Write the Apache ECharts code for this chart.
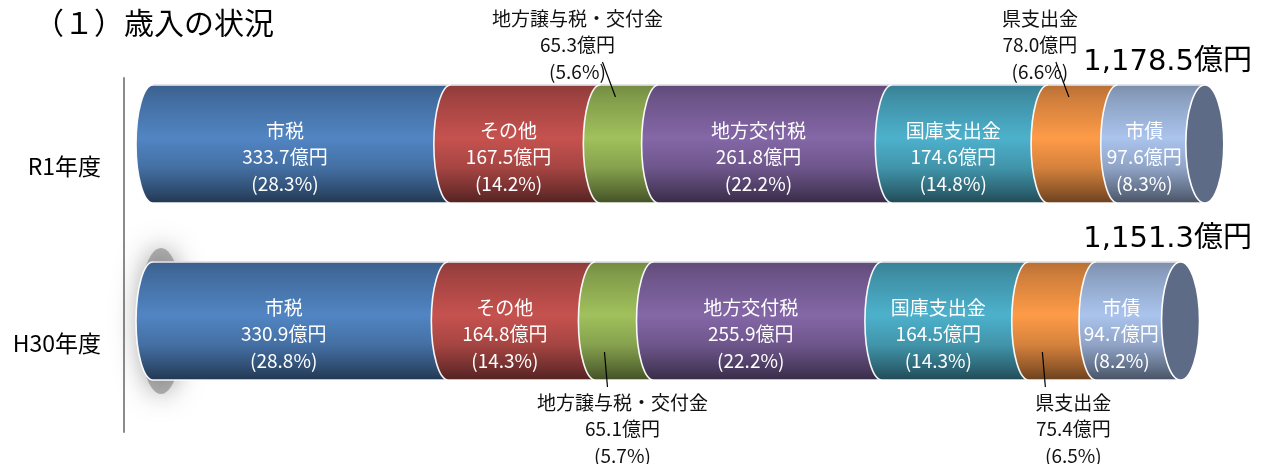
<!DOCTYPE html>
<html>
<head>
<meta charset="utf-8">
<script src="https://cdn.jsdelivr.net/npm/echarts@6/dist/echarts.min.js"></script>
<style>
  html, body { margin: 0; padding: 0; background: #fff; }
  #chart { width: 1263px; height: 464px; }
</style>
</head>
<body>
<div id="chart"></div>
<script>
// 年度・項目・金額（億円）・構成比（%）
const categories = ['R1年度', 'H30年度'];
const itemNames = ['市税', 'その他', '地方譲与税・交付金', '地方交付税', '国庫支出金', '県支出金', '市債'];
const valuesR1 = [333.7, 167.5, 65.3, 261.8, 174.6, 78.0, 97.6];
const valuesH30 = [330.9, 164.8, 65.1, 255.9, 164.5, 75.4, 94.7];
const pctR1 = [28.3, 14.2, 5.6, 22.2, 14.8, 6.6, 8.3];
const pctH30 = [28.8, 14.3, 5.7, 22.2, 14.3, 6.5, 8.2];

const valuesByYear = [valuesR1, valuesH30];
const pctByYear = [pctR1, pctH30];

// 見た目の設定
const colors = ['#4F81BD', '#C0504D', '#9BBB59', '#8064A2', '#4BACC6', '#F79646', '#A6BEE6'];
const capColor = '#5e6b86';
const FONT = '"Noto Sans CJK JP", "Noto Sans", sans-serif';
const NUM_FONT = '"DejaVu Sans", "Noto Sans CJK JP", sans-serif';
const RX = 17;
// 外側に出すラベル（譲与税・県支出金）の横ずれ
const outsideItems = [2, 5];
const outsideDx = [{ 2: -35, 5: -26 }, { 2: 15, 5: 28 }];
const shadowYear = 1;

const shade = (hex, f) => {
  const n = parseInt(hex.slice(1), 16);
  const c = [(n >> 16) & 255, (n >> 8) & 255, n & 255].map(v => Math.max(0, Math.min(255, Math.round(v * f))));
  return 'rgb(' + c.join(',') + ')';
};
const cylGradient = (hex) => ({
  type: 'linear', x: 0, y: 0, x2: 0, y2: 1,
  colorStops: [
    { offset: 0, color: shade(hex, 0.74) },
    { offset: 0.12, color: shade(hex, 0.84) },
    { offset: 0.45, color: shade(hex, 1.03) },
    { offset: 0.7, color: shade(hex, 0.86) },
    { offset: 0.9, color: shade(hex, 0.58) },
    { offset: 1, color: shade(hex, 0.42) }
  ]
});

const K = 0.5523;
// 左半分の楕円弧（上→下）
const leftArc = (x, top, bottom) => {
  const cy = (top + bottom) / 2, ry = (bottom - top) / 2;
  return 'C ' + (x - K * RX) + ' ' + top + ' ' + (x - RX) + ' ' + (cy - K * ry) + ' ' + (x - RX) + ' ' + cy +
    ' C ' + (x - RX) + ' ' + (cy + K * ry) + ' ' + (x - K * RX) + ' ' + bottom + ' ' + x + ' ' + bottom;
};
const ellipsePath = (cx, cy, rx, ry) => {
  return 'M ' + cx + ' ' + (cy - ry) +
    ' C ' + (cx + K * rx) + ' ' + (cy - ry) + ' ' + (cx + rx) + ' ' + (cy - K * ry) + ' ' + (cx + rx) + ' ' + cy +
    ' C ' + (cx + rx) + ' ' + (cy + K * ry) + ' ' + (cx + K * rx) + ' ' + (cy + ry) + ' ' + cx + ' ' + (cy + ry) +
    ' C ' + (cx - K * rx) + ' ' + (cy + ry) + ' ' + (cx - rx) + ' ' + (cy + K * ry) + ' ' + (cx - rx) + ' ' + cy +
    ' C ' + (cx - rx) + ' ' + (cy - K * ry) + ' ' + (cx - K * rx) + ' ' + (cy - ry) + ' ' + cx + ' ' + (cy - ry) + ' Z';
};

const fmtTotal = (v) => v.toLocaleString('en-US', { minimumFractionDigits: 1, maximumFractionDigits: 1 }) + '億円';

const makeRender = (si) => (params, api) => {
  const cat = api.value(0);
  const p0 = api.coord([api.value(1), cat]);
  const p1 = api.coord([api.value(2), cat]);
  const band = api.size([0, 1])[1];
  const h = band * 0.667;
  const cy = p0[1] - band * 0.127;
  const top = cy - h / 2, bottom = cy + h / 2;
  const x0 = p0[0], x1 = p1[0];
  const value = api.value(3), pct = api.value(4);
  const children = [];

  if (si === 0 && cat === shadowYear) {
    children.push({
      type: 'path',
      shape: { pathData: ellipsePath(x0 + 8, cy, RX + 6, h / 2 + 14) },
      style: { fill: 'rgba(110,110,110,0.5)', shadowBlur: 26, shadowColor: 'rgba(0,0,0,0.7)' }
    });
  }

  children.push({
    type: 'path',
    shape: { pathData: 'M ' + x1 + ' ' + top + ' L ' + x0 + ' ' + top + ' ' + leftArc(x0, top, bottom) + ' L ' + x1 + ' ' + bottom },
    style: { fill: cylGradient(colors[si]), stroke: 'rgba(255,255,255,0.95)', lineWidth: 1.6 }
  });
  // 上のふち
  children.push({
    type: 'line', shape: { x1: x0, y1: top, x2: x1, y2: top },
    style: { stroke: 'rgba(190,190,200,0.8)', lineWidth: 1 }
  });

  if (si === itemNames.length - 1) {
    children.push({
      type: 'path',
      shape: { pathData: ellipsePath(x1, cy, RX + 2, h / 2) },
      style: { fill: capColor, stroke: '#ffffff', lineWidth: 1.6 }
    });
    const total = valuesByYear[cat].reduce((a, b) => a + b, 0);
    children.push({
      type: 'text',
      style: {
        text: fmtTotal(total), x: api.getWidth() - 11, y: top - 23,
        align: 'right', verticalAlign: 'middle', fill: '#000',
        fontSize: 29, fontFamily: NUM_FONT
      }
    });
  }

  const scx = (x0 + x1) / 2 - RX;
  const text = itemNames[si] + '\n' + value.toFixed(1) + '億円\n(' + pct.toFixed(1) + '%)';
  if (outsideItems.indexOf(si) >= 0) {
    const dx = outsideDx[cat][si];
    if (cat === 0) {
      children.push({
        type: 'line', shape: { x1: scx + 3, y1: top + 12, x2: scx - 10, y2: top - 23 },
        style: { stroke: '#000', lineWidth: 1.2 }
      });
      children.push({
        type: 'text',
        style: {
          text: text, x: scx + dx, y: top - 40, align: 'center', verticalAlign: 'middle',
          fill: '#111', fontSize: 19, lineHeight: 26.5, fontFamily: FONT
        }
      });
    } else {
      children.push({
        type: 'line', shape: { x1: scx - 3, y1: cy + 31, x2: scx, y2: bottom + 7 },
        style: { stroke: '#000', lineWidth: 1.2 }
      });
      children.push({
        type: 'text',
        style: {
          text: text, x: scx + dx, y: bottom + 49, align: 'center', verticalAlign: 'middle',
          fill: '#111', fontSize: 19, lineHeight: 26.5, fontFamily: FONT
        }
      });
    }
  } else {
    children.push({
      type: 'text',
      style: {
        text: text, x: scx, y: cy + 13, align: 'center', verticalAlign: 'middle',
        fill: '#fff', fontSize: 19, lineHeight: 26.5, fontFamily: FONT
      }
    });
  }
  return { type: 'group', children: children };
};

const series = itemNames.map((name, si) => ({
  type: 'custom',
  name: name,
  clip: false,
  renderItem: makeRender(si),
  encode: { x: [1, 2], y: 0 },
  data: categories.map((c, k) => {
    const vals = valuesByYear[k];
    const start = vals.slice(0, si).reduce((a, b) => a + b, 0);
    return [k, start, start + vals[si], vals[si], pctByYear[k][si]];
  })
}));

const chart = echarts.init(document.getElementById('chart'), null, { renderer: 'canvas' });
chart.setOption({
  animation: false,
  title: {
    text: '（１）歳入の状況', left: 29, top: 3,
    textStyle: { fontSize: 30, fontWeight: 'normal', color: '#000', fontFamily: FONT }
  },
  // 縦軸の線は棒の左端より少し左にあるので、横軸の最小値を少し負にしてある
  grid: { left: 124, right: 39, top: 78, bottom: 32 },
  xAxis: { type: 'value', min: -32.5, max: 1200, show: false },
  yAxis: {
    type: 'category', inverse: true, data: categories,
    axisLine: { show: true, onZero: false, lineStyle: { color: '#8c8c8c', width: 2 } },
    axisTick: { show: false },
    axisLabel: { color: '#000', fontSize: 23, margin: 23, fontFamily: FONT },
    splitLine: { show: false }
  },
  series: series
});
</script>
</body>
</html>
